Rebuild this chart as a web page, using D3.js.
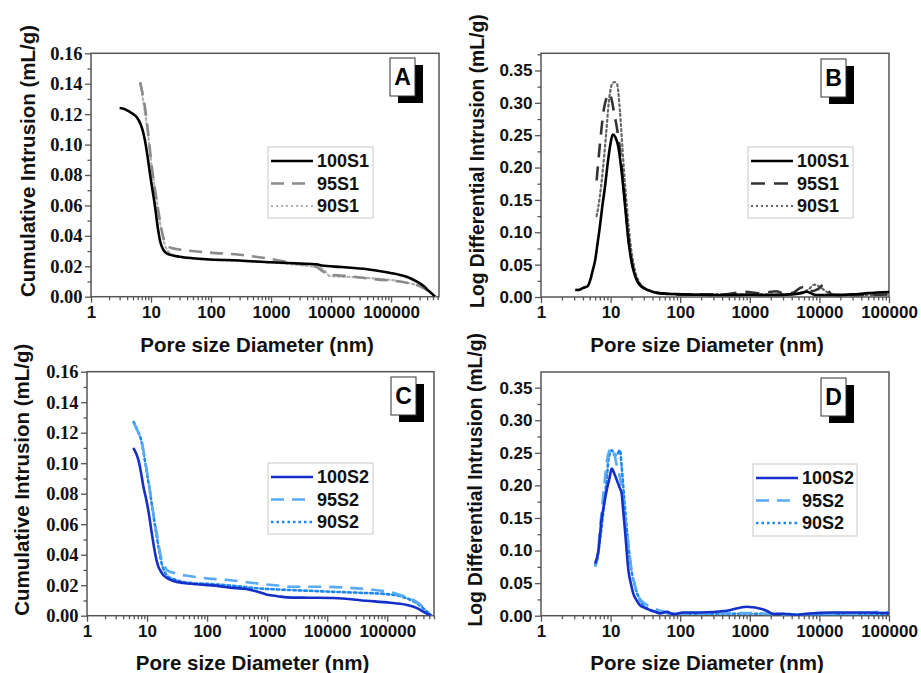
<!DOCTYPE html>
<html><head><meta charset="utf-8">
<script src="https://cdn.jsdelivr.net/npm/d3@7"></script>
<style>body{margin:0;background:#fff}
.serifTick{font-family:"Liberation Serif","DejaVu Serif",serif !important;}
</style>
</head><body>
<svg id="chart" width="921" height="673" xmlns="http://www.w3.org/2000/svg"></svg>
<script>
// ---------------- DATA ----------------
const xTickValues = [1, 10, 100, 1000, 10000, 100000];
const yTicksCumulative = [0, 0.02, 0.04, 0.06, 0.08, 0.10, 0.12, 0.14, 0.16];
const yTicksLogDiff = [0, 0.05, 0.10, 0.15, 0.20, 0.25, 0.30, 0.35];
const panelLetters = ["A", "B", "C", "D"];
const namesS1 = ["100S1", "95S1", "90S1"];
const namesS2 = ["100S2", "95S2", "90S2"];
const xTitle = "Pore size Diameter (nm)";
const yTitleCum = "Cumulative Intrusion (mL/g)";
const yTitleLog = "Log Differential Intrusion (mL/g)";

// Panel A – cumulative intrusion, S1
const a100x = [3, 3.5, 4.0, 4.8, 5.8, 6.6, 7.3, 7.9, 8.7, 9.6, 10.6, 11.7, 12.8, 14.1, 15.5, 17, 18.3, 21, 30, 50, 85, 300, 1000, 3000, 5800, 7000, 15000, 40000, 80000, 141000, 200000, 270000, 350000, 420000, 480000, 540000];
const a100y = [0.124, 0.1235, 0.1225, 0.1206, 0.118, 0.114, 0.109, 0.103, 0.093, 0.081, 0.070, 0.059, 0.047, 0.037, 0.032, 0.0295, 0.0285, 0.0275, 0.0263, 0.0253, 0.0246, 0.0238, 0.0226, 0.0218, 0.0213, 0.0205, 0.0195, 0.018, 0.0162, 0.0143, 0.0125, 0.0099, 0.007, 0.004, 0.002, 0];
const a95x = [6.6, 7.2, 7.9, 9.0, 10.3, 11.3, 12.4, 14.1, 16, 18.3, 22, 30.5, 96, 300, 850, 2500, 5500, 7400, 10000, 18000, 58000, 182000, 300000, 395000, 470000, 540000];
const a95y = [0.141, 0.134, 0.125, 0.107, 0.0855, 0.074, 0.0636, 0.050, 0.039, 0.034, 0.032, 0.031, 0.029, 0.0276, 0.0252, 0.022, 0.020, 0.0165, 0.0145, 0.0136, 0.0114, 0.0092, 0.007, 0.0044, 0.002, 0];
const a90x = [6.6, 7.2, 7.9, 9.0, 10.3, 11.3, 12.4, 14.1, 16, 18.3, 21, 25, 40, 85, 300, 1000, 3000, 6000, 7400, 9600, 20000, 60000, 100000, 182000, 300000, 395000, 470000, 540000];
const a90y = [0.14, 0.132, 0.122, 0.105, 0.085, 0.074, 0.064, 0.049, 0.038, 0.031, 0.0285, 0.027, 0.0255, 0.0243, 0.0234, 0.0225, 0.0208, 0.0192, 0.018, 0.0136, 0.013, 0.0118, 0.011, 0.0092, 0.0068, 0.0042, 0.002, 0];

// Panel B – log differential intrusion, S1
const b100x = [3.1, 3.5, 4.0, 4.3, 4.7, 5.1, 5.5, 6.0, 6.5, 7.0, 7.6, 8.3, 9.0, 9.8, 10.7, 11.7, 12.9, 14.0, 15.2, 16.5, 18, 19.6, 21.3, 23.5, 26.5, 31, 37, 50, 89, 200, 500, 1000, 2000, 4000, 5500, 6600, 7800, 9000, 15000, 30000, 50000, 100000];
const b100y = [0.0108, 0.011, 0.014, 0.015, 0.017, 0.026, 0.04, 0.057, 0.083, 0.108, 0.14, 0.170, 0.203, 0.232, 0.251, 0.247, 0.232, 0.205, 0.170, 0.13, 0.088, 0.06, 0.041, 0.027, 0.018, 0.013, 0.0095, 0.006, 0.0045, 0.0035, 0.003, 0.0035, 0.003, 0.004, 0.006, 0.008, 0.005, 0.003, 0.003, 0.004, 0.006, 0.0078];
const b95x = [6.3, 6.8, 7.4, 8.0, 8.7, 9.3, 9.8, 10.4, 11.2, 12.3, 13.2, 14.2, 15.2, 16.5, 18, 19.6, 21.3, 23.5, 26.5, 31, 40, 60, 100, 200, 400, 600, 800, 1100, 1500, 2000, 2400, 3000, 4000, 5300, 6500, 8000, 9500, 11400, 13000, 15000, 20000, 40000, 100000];
const b95y = [0.18, 0.22, 0.26, 0.29, 0.307, 0.314, 0.313, 0.304, 0.285, 0.262, 0.24, 0.21, 0.175, 0.135, 0.092, 0.062, 0.042, 0.028, 0.019, 0.013, 0.008, 0.005, 0.004, 0.004, 0.004, 0.006, 0.008, 0.007, 0.005, 0.008, 0.009, 0.006, 0.006, 0.014, 0.016, 0.009, 0.012, 0.0185, 0.012, 0.004, 0.003, 0.003, 0.004];
const b90x = [6.3, 7.0, 7.8, 8.6, 9.4, 10.4, 11.3, 12.3, 13.6, 15.2, 17, 19, 21.3, 25, 33, 50, 100, 300, 1000, 3000, 5000, 7000, 8500, 10000, 12000, 14000, 20000, 50000, 100000];
const b90y = [0.125, 0.155, 0.2, 0.25, 0.30, 0.328, 0.332, 0.33, 0.288, 0.211, 0.144, 0.088, 0.052, 0.026, 0.011, 0.006, 0.004, 0.004, 0.004, 0.004, 0.006, 0.012, 0.019, 0.016, 0.01, 0.005, 0.003, 0.003, 0.004];

// Panel C – cumulative intrusion, S2
const c100x = [5.9, 6.3, 7.2, 8.0, 8.7, 9.6, 10.5, 12, 13.6, 15.5, 17, 18.6, 22, 27.5, 40, 67, 140, 240, 450, 700, 1000, 1500, 2130, 5000, 12800, 45000, 112000, 164000, 213000, 312000, 400000, 480000, 540000];
const c100y = [0.110, 0.108, 0.102, 0.093, 0.0846, 0.077, 0.069, 0.054, 0.041, 0.032, 0.029, 0.0267, 0.0245, 0.0228, 0.0215, 0.0206, 0.0197, 0.0184, 0.0175, 0.0157, 0.0138, 0.0128, 0.012, 0.0118, 0.0116, 0.0098, 0.0085, 0.0078, 0.007, 0.005, 0.0026, 0.001, 0];
const c95x = [6.1, 7.0, 8.1, 9.0, 9.9, 11, 12, 13.2, 14.5, 16, 17.6, 19.5, 21.3, 29, 50, 100, 228, 500, 815, 1500, 2420, 7170, 21300, 63000, 120000, 164000, 250000, 350000, 450000, 540000];
const c95y = [0.126, 0.121, 0.115, 0.105, 0.0955, 0.084, 0.0737, 0.063, 0.054, 0.044, 0.0365, 0.033, 0.030, 0.0278, 0.026, 0.0245, 0.0234, 0.0218, 0.0208, 0.0198, 0.019, 0.019, 0.0184, 0.0168, 0.0152, 0.0136, 0.011, 0.0075, 0.0035, 0];
const c90x = [6.0, 7.0, 8.1, 9.0, 9.9, 11, 12, 13.2, 14.5, 16, 17.6, 19.5, 22, 30.5, 52, 109, 300, 675, 1500, 4600, 12000, 31600, 96000, 213000, 300000, 400000, 480000, 540000];
const c90y = [0.127, 0.121, 0.114, 0.104, 0.094, 0.083, 0.073, 0.062, 0.052, 0.042, 0.034, 0.029, 0.026, 0.0234, 0.0215, 0.0208, 0.0195, 0.018, 0.0172, 0.0164, 0.0157, 0.0151, 0.0142, 0.0114, 0.0085, 0.0048, 0.002, 0];

// Panel D – log differential intrusion, S2
const d100x = [6.0, 6.7, 7.4, 8.1, 8.8, 9.6, 10.4, 11.3, 12.3, 13.3, 14.4, 15.2, 16.1, 17, 18, 19.5, 21.2, 23.5, 26.5, 31, 37, 44, 51, 64, 80, 110, 192, 470, 900, 1740, 2180, 3000, 4700, 6600, 15800, 48000, 100000];
const d100y = [0.080, 0.10, 0.147, 0.172, 0.193, 0.21, 0.226, 0.218, 0.208, 0.198, 0.188, 0.16, 0.131, 0.10, 0.070, 0.05, 0.034, 0.024, 0.016, 0.012, 0.0087, 0.006, 0.0035, 0.006, 0.002, 0.005, 0.005, 0.0077, 0.0138, 0.0077, 0.0026, 0.003, 0.001, 0.003, 0.005, 0.005, 0.004];
const d95x = [6.0, 6.5, 7.0, 7.6, 8.2, 8.8, 9.5, 10.4, 11.3, 12.0, 12.9, 14, 15, 16, 17, 18.5, 20, 22, 25, 30, 40, 60, 100, 300, 1000, 3000, 10000, 30000, 50000, 70000, 100000];
const d95y = [0.075, 0.09, 0.13, 0.17, 0.205, 0.235, 0.252, 0.257, 0.25, 0.235, 0.223, 0.205, 0.18, 0.155, 0.13, 0.1, 0.07, 0.05, 0.03, 0.02, 0.012, 0.006, 0.003, 0.004, 0.004, 0.002, 0.003, 0.003, 0.004, 0.006, 0.005];
const d90x = [6.0, 6.5, 7.0, 7.6, 8.2, 8.8, 9.3, 10.4, 11.5, 12.5, 13.6, 14.4, 15.2, 16.1, 17, 18, 19, 20.5, 22.4, 28, 35, 50, 100, 1000, 10000, 100000];
const d90y = [0.078, 0.09, 0.115, 0.145, 0.18, 0.21, 0.239, 0.254, 0.246, 0.248, 0.254, 0.23, 0.198, 0.165, 0.136, 0.11, 0.085, 0.062, 0.045, 0.019, 0.01, 0.005, 0.003, 0.003, 0.002, 0.003];

// ---------------- STYLES / LAYOUT ----------------
const greyStyles = {
  A: [{c: "#000", w: 2.6, d: null}, {c: "#8a8a8a", w: 2.6, d: "13,8"}, {c: "#b0b0b0", w: 2.2, d: "2,3"}],
  B: [{c: "#000", w: 2.6, d: null}, {c: "#333", w: 2.6, d: "14,9"}, {c: "#666", w: 2.2, d: "2,3"}]
};
const blueStyles = [{c: "#1530c8", w: 2.6, d: null}, {c: "#5aabf5", w: 2.6, d: "13,8"}, {c: "#1e88ee", w: 2.6, d: "2.5,3"}];

const panels = [
  {L: "A", x0: 91, x1: 439, y0: 53.3, y1: 296.7, xMax: 6.3e5, yMax: 0.16, yTicks: yTicksCumulative, yMinorStep: 0.01,
   serif: true, yTitle: yTitleCum, yTitleX: 28, yTitleSize: 20.5,
   names: namesS1, styles: greyStyles.A,
   series: [[a100x, a100y], [a95x, a95y], [a90x, a90y]],
   leg: {x: 268, y: 147, w: 105, h: 71}, box: {x: 390, y: 58}, xTitleY: 352},
  {L: "B", x0: 541, x1: 889, y0: 53.3, y1: 297, xMax: 1e5, yMax: 0.3765, yTicks: yTicksLogDiff, yMinorStep: 0.025,
   serif: false, yTitle: yTitleLog, yTitleX: 477, yTitleSize: 19.3,
   names: namesS1, styles: greyStyles.B,
   series: [[b100x, b100y], [b95x, b95y], [b90x, b90y]],
   leg: {x: 748, y: 147, w: 105, h: 71}, box: {x: 821, y: 59}, xTitleY: 352},
  {L: "C", x0: 87, x1: 434, y0: 371.7, y1: 615.7, xMax: 6.0e5, yMax: 0.16, yTicks: yTicksCumulative, yMinorStep: 0.01,
   serif: true, yTitle: yTitleCum, yTitleX: 22, yTitleSize: 20.5,
   names: namesS2, styles: blueStyles,
   series: [[c100x, c100y], [c95x, c95y], [c90x, c90y]],
   leg: {x: 268, y: 463, w: 105, h: 71}, box: {x: 391, y: 377}, xTitleY: 670},
  {L: "D", x0: 541, x1: 889, y0: 372, y1: 615.7, xMax: 1e5, yMax: 0.374, yTicks: yTicksLogDiff, yMinorStep: 0.025,
   serif: false, yTitle: yTitleLog, yTitleX: 475, yTitleSize: 19.3,
   names: namesS2, styles: blueStyles,
   series: [[d100x, d100y], [d95x, d95y], [d90x, d90y]],
   leg: {x: 753, y: 464, w: 104, h: 72}, box: {x: 821, y: 378}, xTitleY: 670}
];

const svg = d3.select("#chart");
svg.append("rect").attr("width", 921).attr("height", 673).attr("fill", "#fff");
const sans = "Arial, 'Liberation Sans', Helvetica, sans-serif";
const frameColor = "#555";

panels.forEach((p, i) => {
  const g = svg.append("g");
  const x = d3.scaleLog().domain([1, p.xMax]).range([p.x0, p.x1]);
  const y = d3.scaleLinear().domain([0, p.yMax]).range([p.y1, p.y0]);

  const cid = "clip" + p.L;
  svg.append("defs").append("clipPath").attr("id", cid)
    .append("rect").attr("x", p.x0).attr("y", p.y0).attr("width", p.x1 - p.x0).attr("height", p.y1 - p.y0);

  // x axis (log with minor ticks)
  const allX = [];
  for (let e = 0; e < 6; e++) for (let m = 1; m <= 9; m++) { const v = m * Math.pow(10, e); if (v <= p.xMax) allX.push(v); }
  const xAxis = d3.axisBottom(x).tickValues(allX).tickSizeOuter(0)
    .tickFormat(d => xTickValues.includes(d) ? String(d) : "");
  const gx = g.append("g").attr("transform", `translate(0,${p.y1})`).call(xAxis);
  gx.attr("font-family", null);
  gx.selectAll(".tick line").attr("stroke", frameColor).attr("stroke-width", 1.3)
    .attr("y2", d => xTickValues.includes(d) ? 6 : 3.5);
  gx.select(".domain").remove();
  gx.selectAll(".tick text").style("font-family", sans).style("font-weight", "bold")
    .style("font-size", "17px").attr("fill", "#111").attr("dy", "0.71em").attr("y", 9);

  // y axis
  const minorY = d3.range(0, p.yMax + 1e-9, p.yMinorStep);
  const yAxis = d3.axisLeft(y).tickValues(minorY).tickSizeOuter(0)
    .tickFormat(d => p.yTicks.some(t => Math.abs(t - d) < 1e-9) ? d3.format(".2f")(d) : "");
  const gy = g.append("g").attr("transform", `translate(${p.x0},0)`).call(yAxis);
  gy.attr("font-family", null);
  gy.selectAll(".tick line").attr("stroke", frameColor).attr("stroke-width", 1.3)
    .attr("x2", d => p.yTicks.some(t => Math.abs(t - d) < 1e-9) ? -6 : -3.5);
  gy.select(".domain").remove();
  const yt = gy.selectAll(".tick text").style("font-weight", "bold").attr("fill", "#111").attr("x", -8.5);
  if (p.serif) {
    yt.style("font-family", "'Liberation Serif', 'DejaVu Serif', serif").style("font-size", "18.5px");
  } else {
    yt.style("font-family", sans).style("font-size", "17px");
  }

  // frame
  g.append("rect").attr("x", p.x0).attr("y", p.y0).attr("width", p.x1 - p.x0).attr("height", p.y1 - p.y0)
    .attr("fill", "none").attr("stroke", frameColor).attr("stroke-width", 1.5);

  // lines
  const line = d3.line().x(d => x(d[0])).y(d => y(d[1])).curve(d3.curveMonotoneX);
  const lg = g.append("g").attr("clip-path", `url(#${cid})`);
  [2, 1, 0].forEach(k => {
    const [xs, ys] = p.series[k];
    const pts = xs.map((v, j) => [v, ys[j]]);
    const st = p.styles[k];
    lg.append("path").datum(pts).attr("d", line).attr("fill", "none")
      .attr("stroke", st.c).attr("stroke-width", st.w)
      .attr("stroke-dasharray", st.d).attr("stroke-linejoin", "round")
      .attr("stroke-linecap", st.d && st.d.startsWith("2") ? "round" : "butt");
  });

  // legend
  const L = p.leg;
  const lgd = g.append("g");
  lgd.append("rect").attr("x", L.x).attr("y", L.y).attr("width", L.w).attr("height", L.h)
    .attr("fill", "#fff").attr("stroke", "#c8c8c8").attr("stroke-width", 1);
  p.names.forEach((n, k) => {
    const cy = L.y + 14 + k * 22.5;
    const st = p.styles[k];
    lgd.append("line").attr("x1", L.x + 3).attr("x2", L.x + 45).attr("y1", cy).attr("y2", cy)
      .attr("stroke", st.c).attr("stroke-width", st.w).attr("stroke-dasharray", st.d);
    lgd.append("text").attr("x", L.x + 49).attr("y", cy).attr("dy", "0.36em")
      .style("font-family", sans).style("font-weight", "bold").style("font-size", "18px").attr("fill", "#111").text(n);
  });

  // panel letter box
  const B = p.box;
  g.append("rect").attr("x", B.x + 8).attr("y", B.y + 7).attr("width", 25).attr("height", 38).attr("fill", "#000");
  g.append("rect").attr("x", B.x).attr("y", B.y).attr("width", 25).attr("height", 38)
    .attr("fill", "#fff").attr("stroke", "#333").attr("stroke-width", 1);
  g.append("text").attr("x", B.x + 12.5).attr("y", B.y + 19).attr("dy", "0.36em").attr("text-anchor", "middle")
    .style("font-family", sans).style("font-weight", "bold").style("font-size", "23px").attr("fill", "#000").text(p.L);

  // axis titles
  g.append("text").attr("x", (p.x0 + p.x1) / 2 - 8).attr("y", p.xTitleY).attr("text-anchor", "middle")
    .style("font-family", sans).style("font-weight", "bold").style("font-size", "20.5px").attr("fill", "#111").text(xTitle);
  const ty = (p.y0 + p.y1) / 2 - 14;
  g.append("text").attr("transform", `translate(${p.yTitleX},${ty}) rotate(-90)`).attr("dy", "0.36em")
    .attr("text-anchor", "middle").style("font-family", sans).style("font-weight", "bold")
    .style("font-size", p.yTitleSize + "px").attr("fill", "#111").text(p.yTitle);
});
</script>
</body></html>
